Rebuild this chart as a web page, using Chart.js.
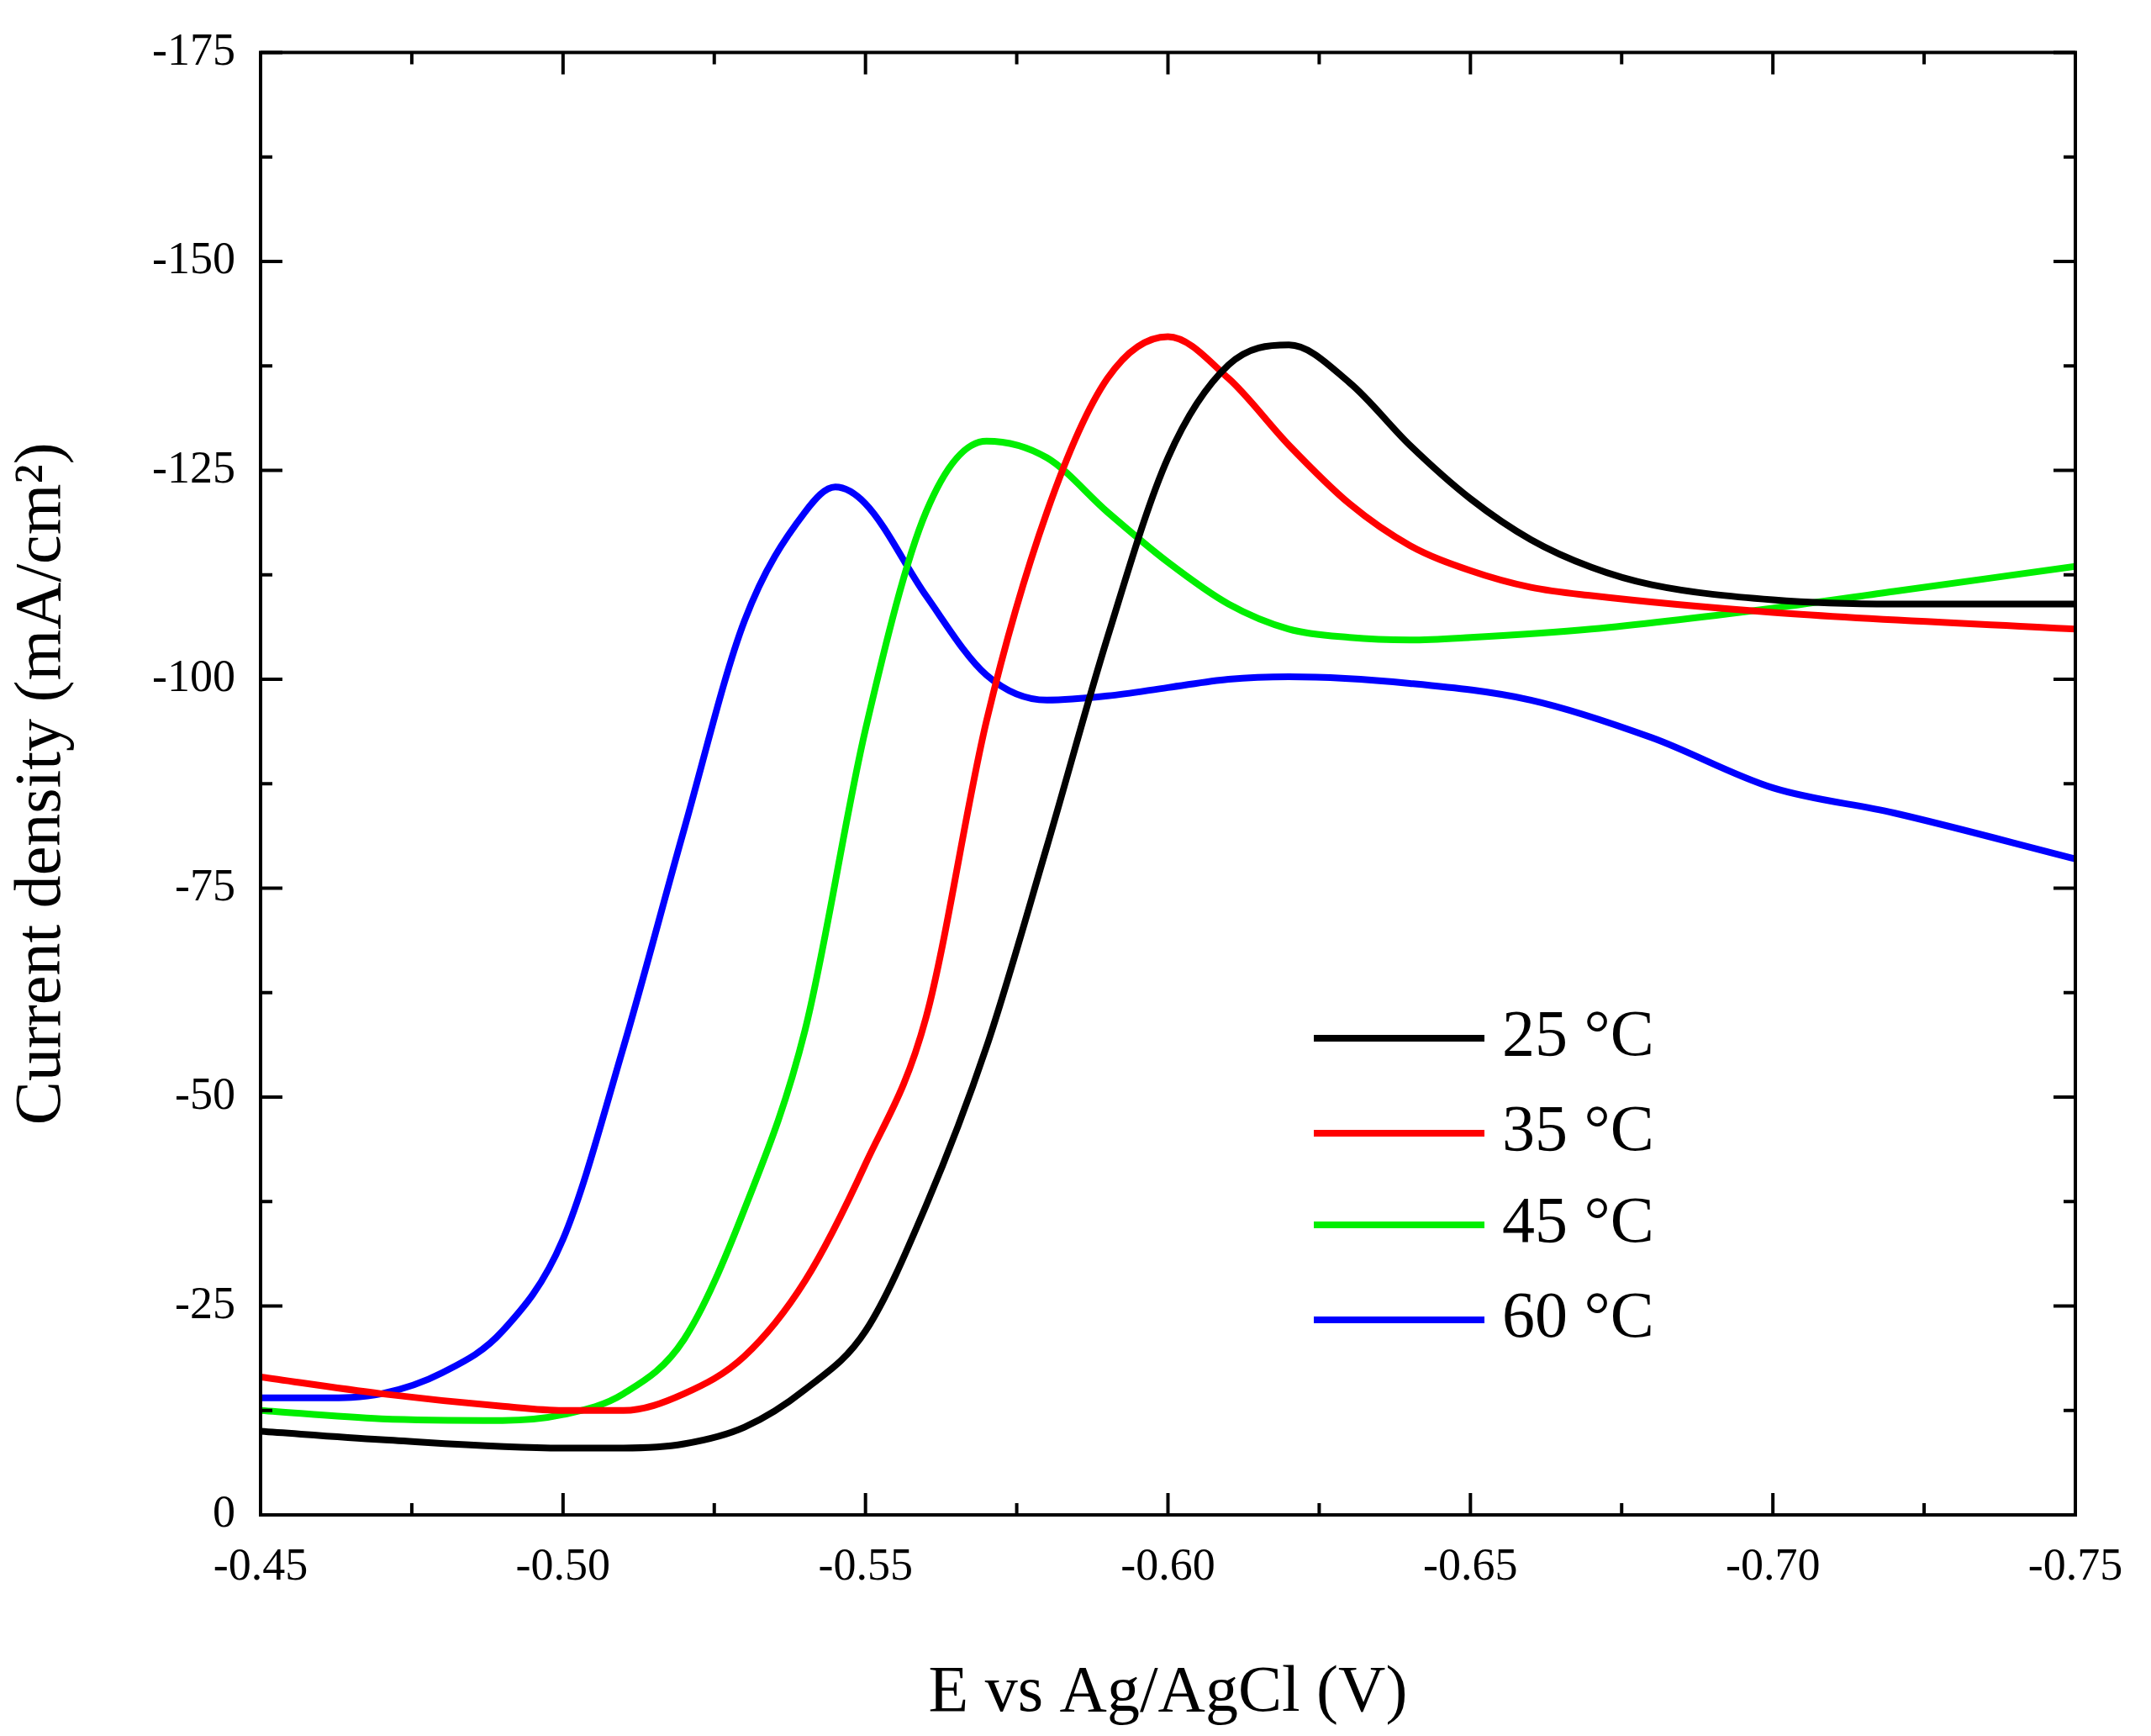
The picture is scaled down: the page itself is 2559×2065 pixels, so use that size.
<!DOCTYPE html>
<html><head><meta charset="utf-8">
<script src="https://cdn.jsdelivr.net/npm/chart.js@4/dist/chart.umd.min.js"></script>
<style>body{margin:0;background:#fff}</style>
</head><body>
<canvas id="c" width="2559" height="2065"></canvas>
<script>
const labels = ['25 °C', '35 °C', '45 °C', '60 °C'];
const colors = ['#000000', '#ff0000', '#00ee00', '#0000ff'];

const x25 = [-0.45,-0.47,-0.50,-0.51,-0.52,-0.53,-0.54,-0.55,-0.56,-0.57,-0.58,-0.59,-0.60,-0.61,-0.62,-0.63,-0.64,-0.65,-0.66,-0.67,-0.68,-0.70,-0.72,-0.75];
const y25 = [-10,-9,-8,-8,-8.5,-10.5,-15,-22,-37,-56,-80,-105,-126.5,-137.6,-140,-135.5,-128,-121.6,-116.7,-113.4,-111.3,-109.5,-109,-109];
const x35 = [-0.45,-0.47,-0.49,-0.50,-0.51,-0.52,-0.53,-0.54,-0.55,-0.56,-0.57,-0.58,-0.59,-0.60,-0.61,-0.62,-0.63,-0.64,-0.65,-0.66,-0.67,-0.70,-0.75];
const y35 = [-16.5,-14.5,-13,-12.5,-12.5,-14.5,-19,-28,-42,-59.5,-95,-120,-136,-141,-136,-128,-121,-116,-113,-111,-110,-108,-106];
const x45 = [-0.45,-0.47,-0.49,-0.50,-0.51,-0.52,-0.53,-0.54,-0.55,-0.56,-0.57,-0.58,-0.59,-0.60,-0.61,-0.62,-0.63,-0.64,-0.65,-0.67,-0.70,-0.72,-0.75];
const y45 = [-12.5,-11.5,-11.3,-12,-14.5,-21,-36.6,-58,-94,-120,-128.5,-126.5,-120,-114,-109,-106,-105,-104.7,-105,-106,-108.5,-110.5,-113.5];
const x60 = [-0.45,-0.46,-0.47,-0.48,-0.49,-0.50,-0.51,-0.52,-0.53,-0.54,-0.545,-0.55,-0.56,-0.57,-0.58,-0.59,-0.60,-0.61,-0.62,-0.64,-0.66,-0.68,-0.70,-0.72,-0.75];
const y60 = [-14,-14,-14.5,-17,-22,-33,-56,-82,-107,-120,-123,-121,-110,-100.5,-97.5,-98,-99,-100,-100.3,-99.5,-97.5,-93,-87,-84,-78.5];

const xs = [x25, x35, x45, x60];
const ys = [y25, y35, y45, y60];
const font = 'Liberation Serif, Times New Roman, serif';

const frame = {
  id: 'frame',
  afterDraw(chart) {
    const c = chart.ctx, a = chart.chartArea;
    const sx = chart.scales.x, sy = chart.scales.y;
    c.save();
    c.strokeStyle = '#000'; c.lineWidth = 4;
    c.strokeRect(a.left, a.top, a.right - a.left, a.bottom - a.top);
    for (let v = -0.75; v <= -0.449; v += 0.025) {
      const p = sx.getPixelForValue(v);
      const major = Math.abs(Math.round(v / 0.05) * 0.05 - v) < 1e-6;
      const len = major ? 26 : 14;
      c.beginPath();
      c.moveTo(p, a.bottom); c.lineTo(p, a.bottom - len);
      c.moveTo(p, a.top); c.lineTo(p, a.top + len);
      c.stroke();
    }
    for (let v = -175; v <= 0; v += 12.5) {
      const p = sy.getPixelForValue(v);
      const len = (v % 25 === 0) ? 26 : 14;
      c.beginPath();
      c.moveTo(a.left, p); c.lineTo(a.left + len, p);
      c.moveTo(a.right, p); c.lineTo(a.right - len, p);
      c.stroke();
    }
    // legend
    const ly = [1235, 1348, 1457, 1570];
    c.font = '78px ' + font; c.textBaseline = 'middle'; c.fillStyle = '#000';
    labels.forEach((l, i) => {
      c.strokeStyle = colors[i]; c.lineWidth = 8;
      c.beginPath(); c.moveTo(1563, ly[i]); c.lineTo(1766, ly[i]); c.stroke();
      c.fillText(l, 1787, ly[i]);
    });
    c.restore();
  }
};

new Chart(document.getElementById('c'), {
  type: 'line',
  data: {
    datasets: labels.map((l, i) => ({
      label: l,
      data: xs[i].map((x, j) => ({ x: x, y: ys[i][j] })),
      borderColor: colors[i], borderWidth: 8, pointRadius: 0,
      cubicInterpolationMode: 'monotone', fill: false
    }))
  },
  options: {
    responsive: false, animation: false, devicePixelRatio: 1,
    layout: { padding: { top: 54, right: 90, left: 0, bottom: 0 } },
    plugins: { legend: { display: false }, tooltip: { enabled: false } },
    scales: {
      x: {
        type: 'linear', min: -0.75, max: -0.45, reverse: true,
        afterFit: s => { s.height = 263; },
        grid: { display: false, drawTicks: false },
        border: { display: false },
        ticks: { stepSize: 0.05, padding: 30, color: '#000', font: { family: font, size: 54 },
          callback: v => v.toFixed(2) },
        title: { display: true, text: 'E vs Ag/AgCl (V)', color: '#000', font: { family: font, size: 78 }, padding: { top: 40 } }
      },
      y: {
        min: -175, max: 0, reverse: true,
        afterFit: s => { s.width = 310; },
        grid: { display: false, drawTicks: false },
        border: { display: false },
        ticks: { stepSize: 25, padding: 30, color: '#000', font: { family: font, size: 54 } },
        title: { display: true, text: 'Current density (mA/cm²)', color: '#000', font: { family: font, size: 78 }, padding: { bottom: 10 } }
      }
    }
  },
  plugins: [frame]
});
</script>
</body></html>
